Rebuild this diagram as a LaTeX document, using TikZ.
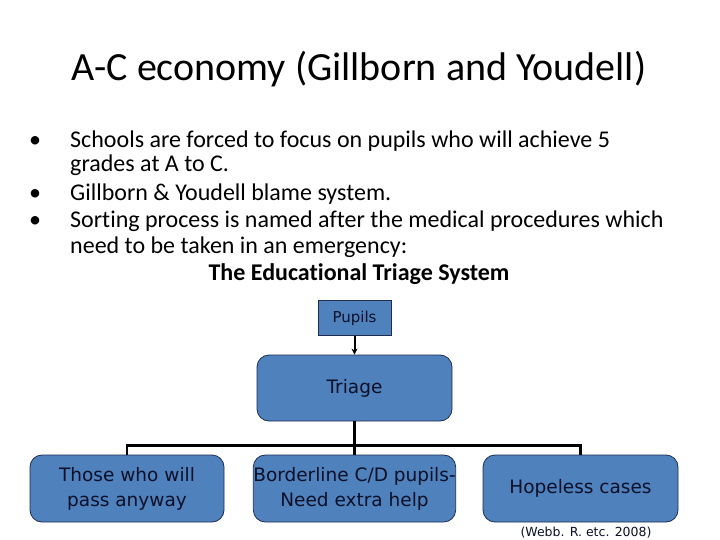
\documentclass[tikz,border=0pt]{standalone}
\usepackage{fontspec}
\setmainfont[Ligatures={NoCommon}]{Carlito}
\newfontfamily\boxfont{DejaVu Sans}
\usetikzlibrary{arrows.meta}
\definecolor{boxblue}{RGB}{79,129,189}
\definecolor{boxedge}{RGB}{30,45,80}
\definecolor{boxtext}{RGB}{12,16,40}
\begin{document}
\begin{tikzpicture}[x=1pt,y=-1pt,
  bluebox/.style={draw=boxedge, line width=0.8pt, fill=boxblue, rounded corners=12pt, text=boxtext, font=\boxfont\fontsize{18.5}{25}\selectfont, align=center, inner sep=0pt},
  conn/.style={line width=2.6pt, black},
  bul/.style={anchor=base west, font=\fontsize{24}{28}\selectfont, inner sep=0pt, text height=13pt, text depth=3pt}
]
\useasboundingbox (0,0) rectangle (720,540);
\fill[white] (0,0) rectangle (720,540);
% title
\node[font=\fontsize{40}{46}\selectfont, anchor=base] (title) at (359,81) {A-C economy (Gillborn and Youdell)};
% bullets
\node[bul] (b1) at (29,148) {\textbullet};
\node[bul] (t1) at (70,148) {Schools are forced to focus on pupils who will achieve 5};
\node[bul] (t1b) at (70,171.5) {grades at A to C.};
\node[bul] (b2) at (29,201) {\textbullet};
\node[bul] (t2) at (70,201) {Gillborn \& Youdell blame system.};
\node[bul] (b3) at (29,228) {\textbullet};
\node[bul] (t3) at (70,228) {Sorting process is named after the medical procedures which};
\node[bul] (t3b) at (70,254) {need to be taken in an emergency:};
\node[font=\bfseries\fontsize{24}{28}\selectfont, anchor=base, inner sep=0pt] (t4) at (359,280) {The Educational Triage System};
% org chart
\node[draw=boxedge, line width=0.8pt, fill=boxblue, text=boxtext, font=\boxfont\fontsize{15}{18}\selectfont, minimum width=73pt, minimum height=35pt, inner sep=0pt] (pupils) at (354.5,318) {Pupils};
\node[bluebox, minimum width=195pt, minimum height=66pt] (triage) at (354.5,388) {Triage};
\node[bluebox, minimum width=194pt, minimum height=67pt] (pass) at (127,488.5) {Those who will\\pass anyway};
\node[bluebox, minimum width=195pt, minimum height=67pt] (border) at (354.5,488.5) {Borderline C/D pupils-\\Need extra help};
\node[bluebox, minimum width=195pt, minimum height=67pt] (hope) at (580.5,488.5) {Hopeless cases};
\draw[line width=2pt, -{Stealth[length=6pt,width=6pt]}] (pupils.south) -- (triage.north);
\coordinate (bar) at (354.5,445.5);
\draw[conn] (triage.south) -- (bar);
\draw[conn] (pass.north) |- (bar) -| (hope.north);
\draw[conn] (bar) -- (border.north);
\node[font=\boxfont\fontsize{12.5}{15}\selectfont, text=boxtext, anchor=base] (cite) at (586,536.5) {(Webb. R. etc. 2008)};
\end{tikzpicture}
\end{document}
